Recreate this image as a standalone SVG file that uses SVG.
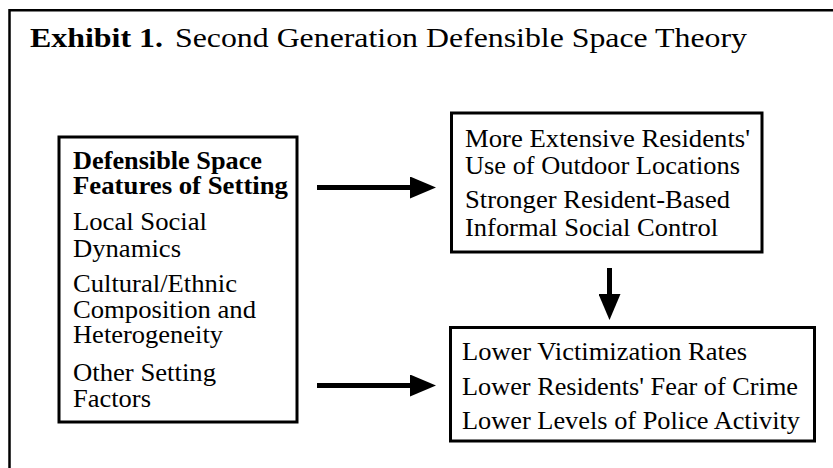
<svg xmlns="http://www.w3.org/2000/svg" width="833" height="468" viewBox="0 0 833 468">
<style>
.box{fill:#fff;stroke:#000;stroke-width:3}
.arr{stroke:#000;stroke-width:5;fill:none;marker-end:url(#ah)}
</style>
<defs>
<marker id="ah" markerUnits="userSpaceOnUse" markerWidth="26" markerHeight="22" refX="10" refY="11" orient="auto">
<path d="M0,0 L26,11 L0,22 Z" fill="#000"/>
</marker>
</defs>
<rect width="833" height="468" fill="#fff"/>
<path d="M9.5,468 L9.5,10.3 L833,10.3" fill="none" stroke="#000" stroke-width="2.5"/>
<g id="title" font-family="Liberation Serif" font-size="28">
<text x="30" y="47" font-weight="bold" textLength="133" lengthAdjust="spacingAndGlyphs">Exhibit 1.</text>
<text x="175" y="47" textLength="572" lengthAdjust="spacingAndGlyphs">Second Generation Defensible Space Theory</text>
</g>
<g id="setting" font-family="Liberation Serif" font-size="25">
<rect class="box" x="59" y="137" width="238" height="285"/>
<text font-weight="bold" x="73" y="169" textLength="189" lengthAdjust="spacingAndGlyphs">Defensible Space</text>
<text font-weight="bold" x="73" y="194" textLength="215" lengthAdjust="spacingAndGlyphs">Features of Setting</text>
<text x="73" y="230" textLength="134" lengthAdjust="spacingAndGlyphs">Local Social</text>
<text x="73" y="257" textLength="108" lengthAdjust="spacingAndGlyphs">Dynamics</text>
<text x="73" y="292" textLength="164" lengthAdjust="spacingAndGlyphs">Cultural/Ethnic</text>
<text x="73" y="318" textLength="183" lengthAdjust="spacingAndGlyphs">Composition and</text>
<text x="73" y="343" textLength="150" lengthAdjust="spacingAndGlyphs">Heterogeneity</text>
<text x="73" y="381" textLength="143" lengthAdjust="spacingAndGlyphs">Other Setting</text>
<text x="73" y="407" textLength="78" lengthAdjust="spacingAndGlyphs">Factors</text>
</g>
<g id="residents" font-family="Liberation Serif" font-size="25">
<rect class="box" x="451.5" y="113" width="310.5" height="139"/>
<text x="465" y="147" textLength="285" lengthAdjust="spacingAndGlyphs">More Extensive Residents'</text>
<text x="465" y="174" textLength="275" lengthAdjust="spacingAndGlyphs">Use of Outdoor Locations</text>
<text x="465" y="208" textLength="265" lengthAdjust="spacingAndGlyphs">Stronger Resident-Based</text>
<text x="465" y="236" textLength="253" lengthAdjust="spacingAndGlyphs">Informal Social Control</text>
</g>
<g id="outcomes" font-family="Liberation Serif" font-size="25">
<rect class="box" x="450.5" y="327.5" width="364" height="113.5"/>
<text x="462" y="360" textLength="285" lengthAdjust="spacingAndGlyphs">Lower Victimization Rates</text>
<text x="462" y="395" textLength="336" lengthAdjust="spacingAndGlyphs">Lower Residents' Fear of Crime</text>
<text x="462" y="429" textLength="338" lengthAdjust="spacingAndGlyphs">Lower Levels of Police Activity</text>
</g>
<g id="connectors">
<line class="arr" x1="317" y1="187.5" x2="420" y2="187.5"/>
<line class="arr" x1="317" y1="385.5" x2="420" y2="385.5"/>
<line class="arr" x1="609.5" y1="268" x2="609.5" y2="304"/>
</g>
</svg>
